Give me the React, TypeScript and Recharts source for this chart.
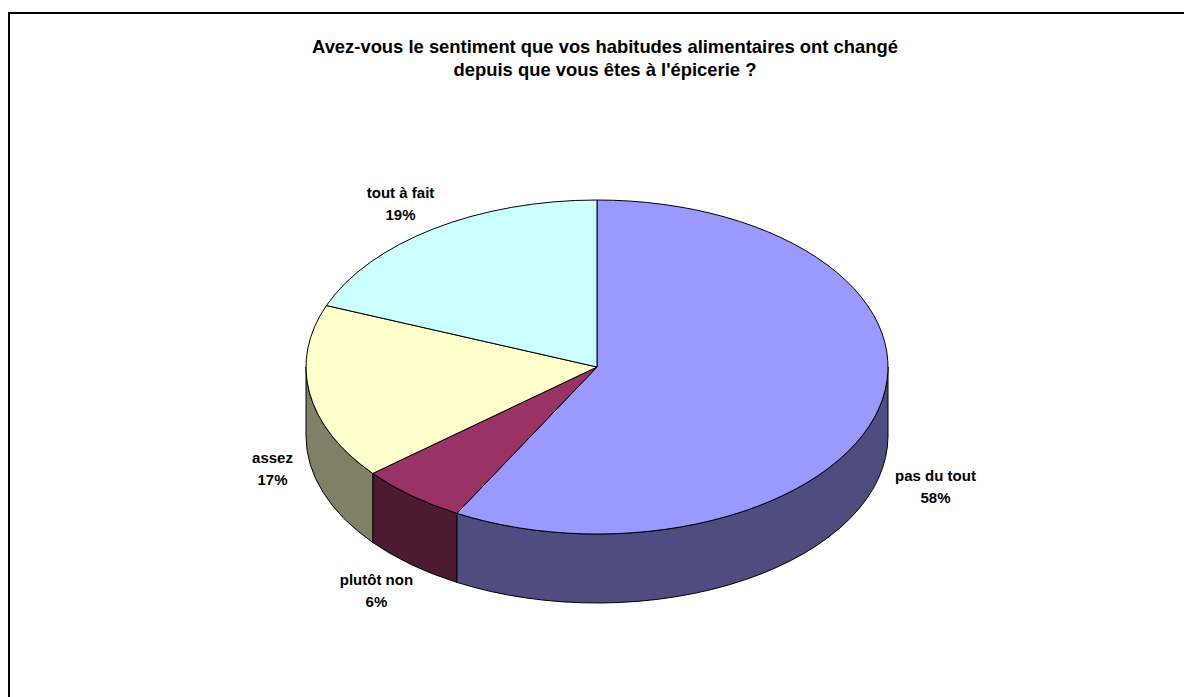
import { PieChart, Pie, Cell } from "recharts";

const categories = ["pas du tout", "plutôt non", "assez", "tout à fait"];
const percents = [58, 6, 17, 19];
const topColors = ["#9999FF", "#993366", "#FFFFCC", "#CCFFFF"];
const sideColors = ["#4D4D80", "#4D1A33", "#808066", "#668080"];
const titleLines = [
  "Avez-vous le sentiment que vos habitudes alimentaires ont changé",
  "depuis que vous êtes à l'épicerie ?",
];

const data = categories.map((name, i) => ({ name, value: percents[i] }));

const W = 1184;
const H = 697;
const TILT = 167 / 291; // vertical squash of the top face
const DEPTH = 69 / 291; // thickness of the disc
const RAD = Math.PI / 180;
const FONT = "'Liberation Sans', Arial, sans-serif";

const pt = (cx: number, cy: number, rx: number, ry: number, a: number) => [
  cx + rx * Math.cos(a * RAD),
  cy - ry * Math.sin(a * RAD),
];

// draws one slice as an elliptical top face plus its visible front wall
const Slice3D = (props: any) => {
  const { cx, cy, outerRadius, startAngle, endAngle, fill } = props;
  const rx = outerRadius;
  const ry = rx * TILT;
  const d = rx * DEPTH;
  const hi = Math.max(startAngle, endAngle);
  const lo = Math.min(startAngle, endAngle);
  const [sx, sy] = pt(cx, cy, rx, ry, startAngle);
  const [ex, ey] = pt(cx, cy, rx, ry, endAngle);
  const large = hi - lo > 180 ? 1 : 0;
  const sweep = startAngle > endAngle ? 1 : 0;
  const top = `M${cx},${cy} L${sx},${sy} A${rx},${ry} 0 ${large} ${sweep} ${ex},${ey} Z`;

  const sides: string[] = [];
  for (let k = -2; k <= 1; k++) {
    const a = Math.max(lo, 180 + 360 * k);
    const b = Math.min(hi, 360 + 360 * k);
    if (b - a > 0.01) {
      const [x1, y1] = pt(cx, cy, rx, ry, b);
      const [x2, y2] = pt(cx, cy, rx, ry, a);
      sides.push(
        `M${x1},${y1} A${rx},${ry} 0 0 1 ${x2},${y2} L${x2},${y2 + d} A${rx},${ry} 0 0 0 ${x1},${y1 + d} Z`
      );
    }
  }
  const idx = topColors.indexOf(fill);
  const sideFill = sideColors[idx] ?? "#555";
  return (
    <g>
      {sides.map((p, i) => (
        <path key={i} d={p} fill={sideFill} stroke="#000" strokeWidth={1} />
      ))}
      <path d={top} fill={fill} stroke="#000" strokeWidth={1} />
    </g>
  );
};

const renderLabel = (props: any) => {
  const { cx, cy, midAngle, outerRadius, name, value } = props;
  const rx = outerRadius;
  const ry = rx * TILT;
  const d = rx * DEPTH;
  const c = Math.cos(midAngle * RAD);
  const s = Math.sin(midAngle * RAD);
  let [x, y] = pt(cx, cy, rx, ry, midAngle);
  if (s < 0) y += d;
  const halfW = Math.max(String(name).length, 3) * 3.5;
  x += c * (halfW + 20);
  y -= s * 32;
  return (
    <text
      x={x}
      y={y}
      textAnchor="middle"
      fontFamily={FONT}
      fontWeight="bold"
      fontSize={15}
      fill="#000"
    >
      <tspan x={x} dy={-4}>{name}</tspan>
      <tspan x={x} dy={22}>{`${value}%`}</tspan>
    </text>
  );
};

export default function App() {
  return (
    <div style={{ position: "absolute", left: 0, top: 0, width: W, height: H, background: "#fff", overflow: "hidden" }}>
      <svg width={W} height={H} style={{ position: "absolute", left: 0, top: 0 }}>
        <rect x={9} y={13} width={W + 20} height={H + 20} fill="#fff" stroke="#000" strokeWidth={2} />
        {titleLines.map((t, i) => (
          <text
            key={i}
            x={605}
            y={53 + i * 23}
            textAnchor="middle"
            fontFamily={FONT}
            fontWeight="bold"
            fontSize={18.4}
            fill="#000"
          >
            {t}
          </text>
        ))}
      </svg>
      <div style={{ position: "absolute", left: 0, top: 0 }}>
        <PieChart width={W} height={H} margin={{ top: 0, right: 0, bottom: 0, left: 0 }}>
          <Pie
            data={data}
            dataKey="value"
            nameKey="name"
            cx={597}
            cy={367}
            outerRadius={291}
            startAngle={90}
            endAngle={-270}
            stroke="#000"
            shape={Slice3D}
            activeShape={Slice3D}
            inactiveShape={Slice3D}
            label={renderLabel}
            labelLine={false}
            isAnimationActive={false}
          >
            {data.map((e, i) => (
              <Cell key={e.name} fill={topColors[i]} />
            ))}
          </Pie>
        </PieChart>
      </div>
    </div>
  );
}
